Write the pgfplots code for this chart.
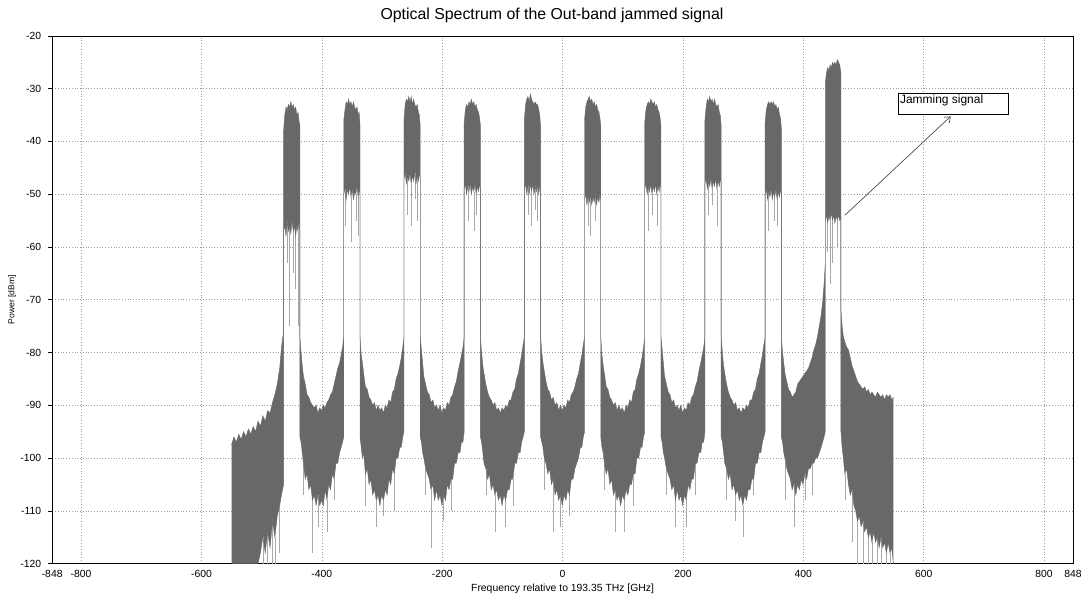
\documentclass[border=0pt]{standalone}
\usepackage{fontspec}
\setmainfont{Liberation Sans}
\usepackage{pgfplots}
\pgfplotsset{compat=1.18}
\usepackage{pgfplotstable}
\usepgfplotslibrary{fillbetween}
\usetikzlibrary{arrows.meta}

\definecolor{sig}{HTML}{686868}
\definecolor{spk}{HTML}{A8A8A8}
\definecolor{grd}{HTML}{9C9C9C}

% spectrum envelope: upper and lower edge of the noisy trace
\pgfplotstableread{
x up lo
-550 -97.5 -120
-546 -96 -120
-542 -97 -120
-538 -95.5 -120
-534 -96.5 -120
-530 -95 -120
-526 -96 -120
-522 -94.5 -120
-518 -95.5 -120
-514 -94 -120
-510 -95 -120
-506 -93 -120
-502 -94 -118
-498 -92 -115
-494 -93 -118
-490 -91 -114
-486 -91.5 -117
-482 -89.5 -112
-478 -88 -115
-474 -86 -111
-470 -83 -109
-467 -79 -107
-463.5 -76 -105
-463.5 -38 -57
-461.5 -35 -56
-459.5 -33.5 -58
-457.5 -34 -55
-455.5 -33 -57
-453.5 -33.5 -56
-451.5 -32.5 -57.5
-449.5 -33.5 -55
-447.5 -33 -57
-445.5 -34 -56
-443.5 -33.5 -58
-441.5 -35 -56
-439.5 -34.5 -57
-438 -36 -55
-436.5 -37 -57
-436.5 -77 -96
-434.5 -80 -97
-432.5 -82.5 -99
-430.5 -84.5 -101
-427.5 -86 -104
-424.5 -88 -103
-421.5 -88.5 -106
-418.5 -89.5 -105
-415.5 -90 -108
-412.5 -90.5 -107
-409.5 -90 -109
-406.5 -91.5 -107
-403.5 -90.5 -109
-400.5 -91 -108
-397.5 -90 -109
-394.5 -90.5 -106
-391.5 -89.5 -108
-388.5 -89 -105
-385.5 -88 -106
-382.5 -87.5 -103
-379.5 -86 -104
-376.5 -84.5 -101
-373.5 -83 -101
-370.5 -82 -99
-368 -80.5 -98
-365.5 -79 -97
-363.5 -77 -96
-363.5 -36 -50
-361.5 -34 -49
-359.5 -32.5 -51
-357.5 -33 -49
-355.5 -32 -50
-353.5 -33 -48.5
-351.5 -32.5 -50.5
-349.5 -33.5 -49
-347.5 -32.5 -51
-345.5 -33.5 -49.5
-343.5 -34 -50
-341.5 -33.5 -48.5
-339.5 -35 -50.5
-338 -34.5 -49
-336.5 -37 -50
-336.5 -77 -96
-334.5 -80.5 -98
-332.5 -82 -100
-330.5 -84 -99
-327.5 -86.5 -103
-324.5 -87 -102
-321.5 -88.5 -105
-318.5 -89 -104
-315.5 -90 -107
-312.5 -89.5 -106
-309.5 -91 -108
-306.5 -90 -107
-303.5 -91 -109
-300.5 -90.5 -107
-297.5 -91.5 -108
-294.5 -90 -106
-291.5 -90.5 -107
-288.5 -89 -104
-285.5 -89.5 -105
-282.5 -87.5 -102
-279.5 -87 -103
-276.5 -85 -100
-273.5 -84 -100
-270.5 -82.5 -98
-268 -81 -98
-265.5 -79 -96
-263.5 -77 -95
-263.5 -36 -47
-261.5 -33 -46
-259.5 -32 -48
-257.5 -32.5 -46.5
-255.5 -31.5 -47.5
-253.5 -32.5 -46
-251.5 -31.5 -48
-249.5 -33 -46.5
-247.5 -32 -47.5
-245.5 -33 -46
-243.5 -33.5 -48
-241.5 -33 -46.5
-239.5 -34.5 -47.5
-238 -35 -46
-236.5 -37 -47
-236.5 -77 -96
-234.5 -79.5 -97
-232.5 -82 -99
-230.5 -84.5 -100
-227.5 -86 -102
-224.5 -87.5 -103
-221.5 -88 -104
-218.5 -89.5 -106
-215.5 -89 -105
-212.5 -90.5 -108
-209.5 -90 -106
-206.5 -91 -108
-203.5 -90 -107
-200.5 -91.5 -109
-197.5 -90.5 -107
-194.5 -91 -108
-191.5 -89.5 -105
-188.5 -90 -106
-185.5 -88.5 -104
-182.5 -88 -104
-179.5 -86.5 -101
-176.5 -85.5 -101
-173.5 -83.5 -99
-170.5 -82 -99
-168 -80.5 -97
-165.5 -79 -97
-163.5 -77 -95
-163.5 -36.5 -49
-161.5 -34 -48
-159.5 -33 -50
-157.5 -33.5 -48.5
-155.5 -32.5 -49.5
-153.5 -33 -48
-151.5 -32 -50
-149.5 -33 -48.5
-147.5 -32.5 -49.5
-145.5 -33.5 -48
-143.5 -33 -50
-141.5 -34 -48.5
-139.5 -34.5 -49.5
-138 -35.5 -48
-136.5 -37 -49
-136.5 -77 -96
-134.5 -80 -97
-132.5 -82.5 -99
-130.5 -84 -101
-127.5 -86 -102
-124.5 -87.5 -104
-121.5 -88.5 -103
-118.5 -89 -106
-115.5 -90 -105
-112.5 -89.5 -107
-109.5 -91 -106
-106.5 -90.5 -108
-103.5 -91.5 -107
-100.5 -90.5 -109
-97.5 -91 -107
-94.5 -90 -108
-91.5 -90.5 -106
-88.5 -89 -106
-85.5 -89 -104
-82.5 -87.5 -104
-79.5 -87 -101
-76.5 -85 -101
-73.5 -84 -99
-70.5 -82 -99
-68 -80.5 -97
-65.5 -78.5 -96
-63.5 -77 -95
-63.5 -36 -49
-61.5 -33 -48
-59.5 -32 -50
-57.5 -31.5 -48.5
-55.5 -32.5 -50
-53.5 -31 -48
-51.5 -32 -49.5
-49.5 -32.5 -48
-47.5 -33 -50
-45.5 -32.5 -48.5
-43.5 -33 -49.5
-41.5 -33 -48
-39.5 -34 -50
-38 -35 -48.5
-36.5 -37 -49
-36.5 -77 -96
-34.5 -80 -97
-32.5 -82 -98
-30.5 -83.5 -100
-27.5 -85.5 -101
-24.5 -87 -103
-21.5 -87.5 -102
-18.5 -89 -105
-15.5 -88.5 -104
-12.5 -90 -107
-9.5 -89.5 -106
-6.5 -91 -108
-3.5 -90 -107
-0.5 -91 -109
2.5 -90 -107
5.5 -90.5 -108
8.5 -89 -106
11.5 -89.5 -107
14.5 -88 -104
17.5 -87.5 -104
20.5 -86.5 -102
23.5 -85 -101
26.5 -84 -100
29.5 -82 -98
32 -80.5 -98
34.5 -78.5 -96
36.5 -77 -95
36.5 -36 -51
38.5 -33.5 -50
40.5 -32.5 -52
42.5 -32 -50.5
44.5 -31.5 -51.5
46.5 -32.5 -50
48.5 -32 -52
50.5 -33 -50.5
52.5 -32.5 -51.5
54.5 -33.5 -50
56.5 -33 -52
58.5 -34 -50.5
60.5 -34.5 -51.5
62 -35.5 -50
63.5 -37 -51
63.5 -77 -96
65.5 -80.5 -98
67.5 -82.5 -99
69.5 -84 -101
72.5 -86.5 -103
75.5 -87 -102
78.5 -88.5 -105
81.5 -89 -104
84.5 -90 -107
87.5 -89.5 -106
90.5 -91 -108
93.5 -90 -107
96.5 -91 -109
99.5 -90.5 -107
102.5 -91.5 -108
105.5 -90 -106
108.5 -90.5 -107
111.5 -89 -105
114.5 -89.5 -105
117.5 -87.5 -103
120.5 -87 -103
123.5 -85 -100
126.5 -84 -100
129.5 -82.5 -98
132 -81 -98
134.5 -79 -96
136.5 -77 -95
136.5 -36.5 -49
138.5 -34 -48
140.5 -33 -50
142.5 -32.5 -48.5
144.5 -33 -49.5
146.5 -32 -48
148.5 -32.5 -50
150.5 -33 -48.5
152.5 -32.5 -49.5
154.5 -33.5 -48
156.5 -33 -50
158.5 -34 -48.5
160.5 -34.5 -49.5
162 -35.5 -48
163.5 -37 -49
163.5 -77 -96
165.5 -79.5 -97
167.5 -82 -99
169.5 -84.5 -100
172.5 -86 -102
175.5 -87.5 -103
178.5 -88 -104
181.5 -89.5 -106
184.5 -89 -105
187.5 -90.5 -108
190.5 -90 -106
193.5 -91 -108
196.5 -90 -107
199.5 -91.5 -109
202.5 -90.5 -107
205.5 -91 -108
208.5 -89.5 -105
211.5 -90 -106
214.5 -88.5 -104
217.5 -88 -104
220.5 -86.5 -101
223.5 -85.5 -101
226.5 -83.5 -99
229.5 -82 -99
232 -80.5 -97
234.5 -79 -97
236.5 -77 -95
236.5 -36 -48
238.5 -33.5 -47
240.5 -32 -49
242.5 -32.5 -47.5
244.5 -31.5 -48.5
246.5 -32.5 -47
248.5 -32 -49
250.5 -33 -47.5
252.5 -32 -48.5
254.5 -33 -47
256.5 -33.5 -49
258.5 -33 -47.5
260.5 -34.5 -48.5
262 -35 -47
263.5 -37 -48
263.5 -77 -96
265.5 -80 -97
267.5 -82.5 -99
269.5 -84 -101
272.5 -86 -102
275.5 -87.5 -104
278.5 -88.5 -103
281.5 -89 -106
284.5 -90 -105
287.5 -89.5 -107
290.5 -91 -106
293.5 -90.5 -108
296.5 -91.5 -107
299.5 -90.5 -109
302.5 -91 -107
305.5 -90 -108
308.5 -90.5 -106
311.5 -89 -106
314.5 -89 -104
317.5 -87.5 -104
320.5 -87 -101
323.5 -85 -101
326.5 -84 -99
329.5 -82 -99
332 -80.5 -97
334.5 -78.5 -96
336.5 -77 -95
336.5 -36.5 -50
338.5 -34 -49
340.5 -33 -51
342.5 -32.5 -49.5
344.5 -33 -50.5
346.5 -32.5 -49
348.5 -33 -51
350.5 -32.5 -49.5
352.5 -33.5 -50.5
354.5 -33 -49
356.5 -34 -51
358.5 -33.5 -49.5
360.5 -35 -50.5
362 -35.5 -49
363.5 -37.5 -50
363.5 -77 -96
365.5 -80 -97
367.5 -82 -99
369.5 -84 -100
372.5 -85.5 -102
375.5 -87 -103
378.5 -87.5 -104
381.5 -88.5 -106
384.5 -88 -105
387.5 -87.5 -107
390.5 -86 -105
393.5 -85.5 -106
396.5 -85 -104
399.5 -84.5 -105
402.5 -84 -103
405.5 -83.5 -104
408.5 -83 -102
411.5 -82 -102
414.5 -81 -101
417.5 -79.5 -101
420.5 -78.5 -100
423.5 -77 -100
426.5 -75 -99
429.5 -73 -98
432 -70.5 -97
434.5 -67 -96
436.5 -63 -95
436.5 -29 -55
438.5 -27 -54
440.5 -26 -55.5
442.5 -26.5 -54
444.5 -25.5 -55
446.5 -26 -53.5
448.5 -25 -55
450.5 -25.5 -54
452.5 -25 -55.5
454.5 -25.5 -54
456.5 -24.5 -55
458.5 -25 -54
460.5 -25.5 -55
462.5 -27 -54.5
462.5 -72 -95
464.5 -75 -98
466.5 -77 -100
469 -78 -103
472 -79 -102
475 -79.5 -105
478 -81 -107
481 -82.5 -106
484 -83.5 -109
487 -84.5 -110
490 -85.5 -112
493 -86 -111
496 -86.5 -113
499 -87 -112
502 -86.5 -114
505 -87.5 -113
508 -87 -115
511 -88 -114
514 -87.5 -116
517 -88 -114
520 -88.5 -116
523 -87.5 -115
526 -88 -117
529 -88.5 -115
532 -88 -117
535 -89 -116
538 -88 -118
541 -88.5 -116
544 -88 -118
547 -89 -117
549.5 -88.5 -120
}\spec

% deep single dips of the trace below the envelope: top, bottom, break
\pgfplotstableread{
x y
-457.5 -55
-457.5 -63
-457.5 nan
-453.5 -56
-453.5 -75
-453.5 nan
-447.5 -57
-447.5 -65
-447.5 nan
-443.5 -58
-443.5 -68
-443.5 nan
-439.5 -57
-439.5 -75
-439.5 nan
-361.5 -49
-361.5 -56
-361.5 nan
-351.5 -50.5
-351.5 -59
-351.5 nan
-343.5 -50
-343.5 -55
-343.5 nan
-339.5 -50.5
-339.5 -58
-339.5 nan
-257.5 -46.5
-257.5 -54
-257.5 nan
-251.5 -48
-251.5 -56
-251.5 nan
-245.5 -46
-245.5 -51
-245.5 nan
-241.5 -46.5
-241.5 -55
-241.5 nan
-157.5 -48.5
-157.5 -55
-157.5 nan
-147.5 -49.5
-147.5 -57
-147.5 nan
-143.5 -50
-143.5 -54
-143.5 nan
-57.5 -48.5
-57.5 -54
-57.5 nan
-51.5 -49.5
-51.5 -56
-51.5 nan
-45.5 -48.5
-45.5 -53
-45.5 nan
-41.5 -48
-41.5 -55
-41.5 nan
42.5 -50.5
42.5 -56
42.5 nan
46.5 -50
46.5 -58
46.5 nan
54.5 -50
54.5 -55
54.5 nan
142.5 -48.5
142.5 -57
142.5 nan
148.5 -50
148.5 -54
148.5 nan
156.5 -50
156.5 -56
156.5 nan
242.5 -47.5
242.5 -54
242.5 nan
248.5 -49
248.5 -52
248.5 nan
256.5 -49
256.5 -56
256.5 nan
342.5 -49.5
342.5 -57
342.5 nan
352.5 -50.5
352.5 -55
352.5 nan
356.5 -51
356.5 -56
356.5 nan
440.5 -55.5
440.5 -61
440.5 nan
444.5 -55
444.5 -67
444.5 nan
448.5 -55
448.5 -63
448.5 nan
456.5 -55
456.5 -60
456.5 nan
-430.5 -101
-430.5 -107
-430.5 nan
-415.5 -108
-415.5 -118
-415.5 nan
-406.5 -107
-406.5 -113
-406.5 nan
-391.5 -108
-391.5 -114
-391.5 nan
-379.5 -104
-379.5 -108
-379.5 nan
-327.5 -103
-327.5 -109
-327.5 nan
-309.5 -108
-309.5 -113
-309.5 nan
-297.5 -108
-297.5 -111
-297.5 nan
-279.5 -103
-279.5 -110
-279.5 nan
-227.5 -102
-227.5 -107
-227.5 nan
-218.5 -106
-218.5 -117
-218.5 nan
-197.5 -107
-197.5 -112
-197.5 nan
-185.5 -104
-185.5 -110
-185.5 nan
-127.5 -102
-127.5 -107
-127.5 nan
-112.5 -107
-112.5 -114
-112.5 nan
-94.5 -108
-94.5 -113
-94.5 nan
-82.5 -104
-82.5 -109
-82.5 nan
-30.5 -100
-30.5 -106
-30.5 nan
-15.5 -104
-15.5 -114
-15.5 nan
-3.5 -107
-3.5 -113
-3.5 nan
11.5 -107
11.5 -111
11.5 nan
69.5 -101
69.5 -106
69.5 nan
87.5 -106
87.5 -114
87.5 nan
102.5 -108
102.5 -114
102.5 nan
117.5 -103
117.5 -109
117.5 nan
172.5 -102
172.5 -107
172.5 nan
187.5 -108
187.5 -113
187.5 nan
205.5 -108
205.5 -113
205.5 nan
220.5 -101
220.5 -107
220.5 nan
272.5 -102
272.5 -108
272.5 nan
287.5 -107
287.5 -112
287.5 nan
299.5 -109
299.5 -115
299.5 nan
317.5 -104
317.5 -107
317.5 nan
369.5 -100
369.5 -108
369.5 nan
384.5 -105
384.5 -113
384.5 nan
402.5 -103
402.5 -108
402.5 nan
414.5 -101
414.5 -107
414.5 nan
469 -103
469 -108
469 nan
481 -106
481 -116
481 nan
490 -112
490 -120
490 nan
499 -112
499 -120
499 nan
508 -115
508 -120
508 nan
514 -116
514 -120
514 nan
523 -115
523 -120
523 nan
529 -115
529 -120
529 nan
538 -118
538 -120
538 nan
544 -118
544 -120
544 nan
-498 -115
-498 -120
-498 nan
-490 -114
-490 -120
-490 nan
-482 -112
-482 -120
-482 nan
-478 -115
-478 -120
-478 nan
-470 -109
-470 -118
-470 nan
}\spikes

\begin{document}
\begin{tikzpicture}
\begin{axis}[
    width=511.7pt, height=264.5pt, scale only axis,
    xmin=-848, xmax=848, ymin=-120, ymax=-20,
    xtick={-848,-800,-600,-400,-200,0,200,400,600,800,848},
    ytick={-120,-110,...,-20},
    ytick pos=left,
    /pgf/number format/assume math mode=true,
    tick label style={font=\fontsize{5.2}{6}\selectfont},
    xticklabel style={inner sep=1.2pt},
    tick align=outside,
    major tick length=2pt,
    xtick style={draw=none},
    ytick style={black, line width=0.25pt},
    grid=major,
    grid style={densely dotted, grd, line width=0.25pt},
    axis line style={black, line width=0.3pt},
    unbounded coords=jump,
    xlabel={Frequency relative to 193.35 THz [GHz]},
    xlabel style={at={(axis description cs:0.5,-0.0473)}, anchor=center, font=\fontsize{5.2}{6}\selectfont},
    ylabel={Power [dBm]},
    ylabel style={at={(axis description cs:-0.0391,0.5)}, anchor=center, font=\fontsize{4.3}{5}\selectfont},
]
\addplot[spk, line width=0.25pt, forget plot] table[x=x, y=y] {\spikes};
\addplot[name path=up, draw=sig, line width=0.2pt] table[x=x, y=up] {\spec};
\addplot[name path=lo, draw=sig, line width=0.2pt] table[x=x, y=lo] {\spec};
\addplot[sig] fill between[of=up and lo, reverse=true];

\draw[black, line width=0.3pt, fill=white] (axis cs:557.4,-30.8) rectangle (axis cs:739.8,-34.8);
\node[anchor=north west, inner sep=0.8pt, font=\fontsize{6}{7}\selectfont] at (axis cs:557.4,-30.8) {Jamming signal};
\draw[-{Straight Barb[length=2.5pt,width=4pt]}, black!70, line width=0.35pt] (axis cs:469,-54) -- (axis cs:644.8,-35.25);
\end{axis}
\node[font=\fontsize{7.95}{9}\selectfont] at ([xshift=-5.3pt,yshift=10.5pt]current axis.north) {Optical Spectrum of the Out-band jammed signal};
\path ([xshift=-26.15pt,yshift=-16.5pt]current axis.south west) rectangle ([xshift=5pt,yshift=18pt]current axis.north east);
\end{tikzpicture}
\end{document}
